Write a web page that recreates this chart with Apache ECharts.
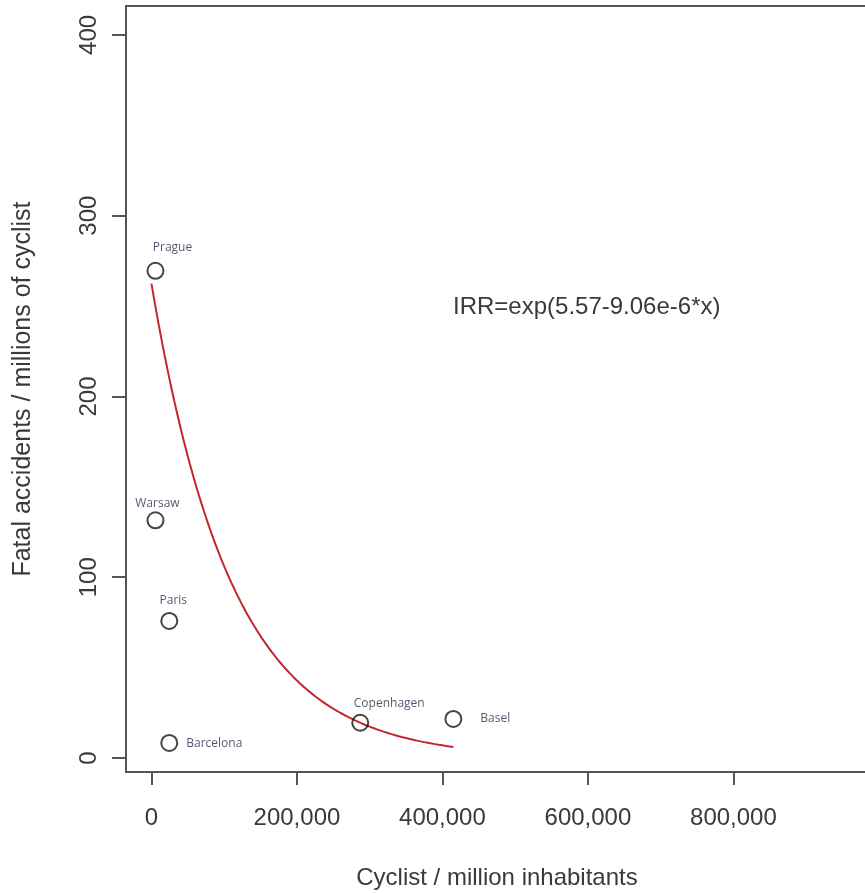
<!DOCTYPE html>
<html>
<head>
<meta charset="utf-8">
<title>Fatal accidents vs cyclists</title>
<script src="https://cdn.jsdelivr.net/npm/echarts@6/dist/echarts.min.js"></script>
<style>
  html, body { margin: 0; padding: 0; background: #fff; }
  #chart { width: 865px; height: 893px; }
</style>
</head>
<body>
<div id="chart"></div>
<script>
// City observations: cyclists per million inhabitants vs fatal accidents per million cyclists
const cities = ['Prague', 'Warsaw', 'Paris', 'Barcelona', 'Copenhagen', 'Basel'];
const cyclists = [5500, 5500, 24500, 24500, 287000, 415000];
const fatalities = [269.5, 131.5, 75.8, 8.3, 19.5, 21.6];

// Fitted model shown on the chart: IRR = exp(a - b*x)
const fitA = 5.57;
const fitB = 9.06e-6;
const fitLabel = 'IRR=exp(5.57-9.06e-6*x)';

// Axis ticks
const xTicks = [0, 200000, 400000, 600000, 800000];
const yTicks = [0, 100, 200, 300, 400];

// Sample the fitted curve over the observed cyclist range
const fitCurve = [];
const xEnd = Math.max(...cyclists);
for (let x = 0; x <= xEnd; x += 2500) {
  fitCurve.push([x, Math.exp(fitA - fitB * x)]);
}
fitCurve.push([xEnd, Math.exp(fitA - fitB * xEnd)]);

// Label placement for each city (offsets in px)
const labelPlacement = {
  Prague:     { position: 'top',   offset: [17, -3] },
  Warsaw:     { position: 'top',   offset: [2, 3] },
  Paris:      { position: 'top',   offset: [4, 0] },
  Barcelona:  { position: 'right', offset: [3, 1] },
  Copenhagen: { position: 'top',   offset: [29, 1] },
  Basel:      { position: 'right', offset: [13, 0] }
};

const points = cities.map((name, i) => ({
  name: name,
  value: [cyclists[i], fatalities[i]],
  label: Object.assign({ show: true, formatter: name }, labelPlacement[name])
}));

const axisText = { fontFamily: 'Liberation Sans, Arial, sans-serif', fontSize: 24, color: '#3a3a3a' };

const chart = echarts.init(document.getElementById('chart'), null, { renderer: 'canvas' });
chart.setOption({
  animation: false,
  backgroundColor: '#ffffff',
  grid: {
    left: 126, top: 6, right: -3, bottom: 121,
    show: true, borderColor: '#555', borderWidth: 2,
    containLabel: false, outerBoundsMode: 'none'
  },
  xAxis: {
    type: 'value',
    min: -35000, max: 985000,
    name: 'Cyclist / million inhabitants',
    nameLocation: 'middle',
    nameGap: 94,
    nameMoveOverlap: false,
    nameTextStyle: axisText,
    splitLine: { show: false },
    axisLine: { show: false, onZero: false },
    axisTick: { show: true, length: 13, customValues: xTicks, lineStyle: { color: '#555', width: 2 } },
    axisLabel: Object.assign({
      customValues: xTicks, margin: 34,
      formatter: v => v.toLocaleString('en-US')
    }, axisText)
  },
  yAxis: {
    type: 'value',
    min: -7.75, max: 416,
    name: 'Fatal accidents / millions of cyclist',
    nameLocation: 'middle',
    nameGap: 90,
    nameRotate: 90,
    nameMoveOverlap: false,
    nameTextStyle: Object.assign({}, axisText, { fontSize: 25 }),
    splitLine: { show: false },
    axisLine: { show: false, onZero: false },
    axisTick: { show: true, length: 14, customValues: yTicks, lineStyle: { color: '#555', width: 2 } },
    axisLabel: Object.assign({ customValues: yTicks, rotate: 90, margin: 25 }, axisText)
  },
  series: [
    {
      type: 'line',
      data: fitCurve,
      showSymbol: false,
      smooth: false,
      lineStyle: { color: '#c0282d', width: 2 },
      z: 2
    },
    {
      type: 'scatter',
      data: points,
      symbol: 'circle',
      symbolSize: 16,
      itemStyle: { color: 'rgba(255,255,255,0)', borderColor: '#151515', borderWidth: 2 },
      label: {
        fontFamily: 'Open Sans, sans-serif',
        fontSize: 12,
        color: '#1f2d4a'
      },
      z: 3
    }
  ],
  graphic: [
    {
      type: 'text',
      left: 453,
      top: 295,
      style: {
        text: fitLabel,
        font: '24px "Liberation Sans", Arial, sans-serif',
        fill: '#3a3a3a'
      }
    }
  ]
});
</script>
</body>
</html>
